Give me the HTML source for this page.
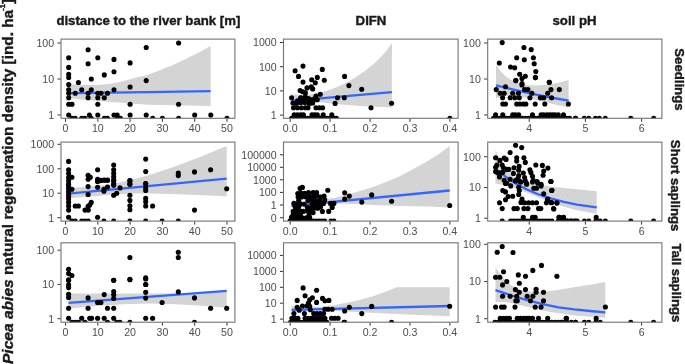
<!DOCTYPE html>
<html><head><meta charset="utf-8"><title>Picea abies natural regeneration density</title>
<style>
html,body{margin:0;padding:0;background:#fff;}
body{width:685px;height:364px;overflow:hidden;}
svg{display:block;will-change:transform;font-family:"Liberation Sans",sans-serif;}
.t{font-size:10.6px;fill:#4d4d4d;}
.b{font-size:13.2px;font-weight:bold;fill:#1a1a1a;stroke:#1a1a1a;stroke-width:.4px;}
.yl{font-size:15.35px;font-weight:bold;fill:#1a1a1a;stroke:#1a1a1a;stroke-width:.4px;}
.tk{stroke:#333;stroke-width:1;fill:none;}
.pb{stroke:#727272;stroke-width:1.1;fill:none;}
.rb{fill:#d4d4d4;stroke:none;}
.ln{stroke:#3366ff;stroke-width:2.3;fill:none;stroke-linecap:butt;}
.d{fill:#000;}
</style></head><body>
<svg width="685" height="364" viewBox="0 0 685 364">
<rect width="685" height="364" fill="#fff"/>
<defs>
<clipPath id="c00"><rect x="61" y="39.1" width="173.9" height="79.2"/></clipPath>
<clipPath id="c01"><rect x="283.5" y="39.1" width="174.6" height="79.2"/></clipPath>
<clipPath id="c02"><rect x="487.7" y="39.1" width="174.2" height="79.2"/></clipPath>
<clipPath id="c10"><rect x="61" y="142.1" width="173.9" height="79"/></clipPath>
<clipPath id="c11"><rect x="283.5" y="142.1" width="174.6" height="79"/></clipPath>
<clipPath id="c12"><rect x="487.7" y="142.1" width="174.2" height="79"/></clipPath>
<clipPath id="c20"><rect x="61" y="242.8" width="173.9" height="79.4"/></clipPath>
<clipPath id="c21"><rect x="283.5" y="242.8" width="174.6" height="79.4"/></clipPath>
<clipPath id="c22"><rect x="487.7" y="242.8" width="174.2" height="79.4"/></clipPath>
</defs>
<text class="yl" transform="translate(13.2,364) rotate(-90)"><tspan font-style="italic" font-size="15.55px">Picea abies</tspan> natural regeneration density [ind. ha<tspan font-size="7.5px" dy="-8" dx="-0.9">-1</tspan><tspan dy="8">]</tspan></text>
<text class="b" x="56.4" y="24.9" text-anchor="start">distance to the river bank [m]</text>
<text class="b" x="371" y="24.9" text-anchor="middle">DIFN</text>
<text class="b" x="574.5" y="24.9" text-anchor="middle">soil pH</text>
<text class="b" transform="translate(674.8,79.4) rotate(90)" text-anchor="middle">Seedlings</text>
<text class="b" transform="translate(671.3,185.6) rotate(90)" text-anchor="middle">Short saplings</text>
<text class="b" transform="translate(671.7,282.9) rotate(90)" text-anchor="middle">Tall saplings</text>
<g clip-path="url(#c00)">
<path class="rb" d="M68.5 84 L71.2 84.2 L84.4 85 L97.6 85 L110.8 83.7 L124 81 L137.2 77.3 L146 75.6 L159.2 70.6 L172.4 65.3 L185.6 59.1 L198.8 52.5 L210.6 45.9 L210.6 106.1 L148 104.8 L137.2 104 L124 103 L110.8 102.1 L97.6 101.1 L84.4 99.7 L68.5 98 Z"/>
<path class="ln" d="M68.5 93.2 L148 92.1 L210.6 91.2"/>
<g class="d"><circle cx="68.7" cy="57.7" r="2.55"/><circle cx="68.7" cy="67.4" r="2.55"/><circle cx="68.7" cy="74.3" r="2.55"/><circle cx="68.7" cy="77.5" r="2.55"/><circle cx="68.7" cy="84.6" r="2.55"/><circle cx="68.7" cy="89.8" r="2.55"/><circle cx="68.7" cy="93.3" r="2.55"/><circle cx="68.7" cy="97.8" r="2.55"/><circle cx="68.7" cy="104.2" r="2.55"/><circle cx="68.7" cy="115" r="2.55"/><circle cx="72" cy="104.2" r="2.55"/><circle cx="72" cy="118.3" r="2.55"/><circle cx="75.2" cy="93.3" r="2.55"/><circle cx="75.2" cy="118.3" r="2.55"/><circle cx="78.4" cy="82.5" r="2.55"/><circle cx="81.7" cy="89.8" r="2.55"/><circle cx="81.7" cy="118.3" r="2.55"/><circle cx="84.9" cy="118.3" r="2.55"/><circle cx="88.1" cy="49.7" r="2.55"/><circle cx="88.1" cy="63.7" r="2.55"/><circle cx="88.1" cy="93.3" r="2.55"/><circle cx="88.1" cy="97.8" r="2.55"/><circle cx="89.4" cy="115" r="2.55"/><circle cx="91.3" cy="79" r="2.55"/><circle cx="91.3" cy="89.8" r="2.55"/><circle cx="91.3" cy="118.3" r="2.55"/><circle cx="97.8" cy="57.7" r="2.55"/><circle cx="97.8" cy="93.3" r="2.55"/><circle cx="97.8" cy="97.8" r="2.55"/><circle cx="97.8" cy="104.2" r="2.55"/><circle cx="97.8" cy="115" r="2.55"/><circle cx="101" cy="93.3" r="2.55"/><circle cx="104.3" cy="74.9" r="2.55"/><circle cx="104.3" cy="97.8" r="2.55"/><circle cx="104.3" cy="118.3" r="2.55"/><circle cx="107.5" cy="93.3" r="2.55"/><circle cx="107.5" cy="118.3" r="2.55"/><circle cx="114" cy="59.4" r="2.55"/><circle cx="114" cy="71.7" r="2.55"/><circle cx="114" cy="89.8" r="2.55"/><circle cx="114" cy="115" r="2.55"/><circle cx="117.2" cy="115" r="2.55"/><circle cx="117.2" cy="118.3" r="2.55"/><circle cx="120.4" cy="118.3" r="2.55"/><circle cx="130.1" cy="62.9" r="2.55"/><circle cx="130.1" cy="87" r="2.55"/><circle cx="130.1" cy="104.2" r="2.55"/><circle cx="130.1" cy="115" r="2.55"/><circle cx="146.2" cy="47.5" r="2.55"/><circle cx="146.2" cy="80.6" r="2.55"/><circle cx="146.2" cy="115" r="2.55"/><circle cx="152.7" cy="118.3" r="2.55"/><circle cx="162.4" cy="118.3" r="2.55"/><circle cx="178.6" cy="43" r="2.55"/><circle cx="178.6" cy="104.2" r="2.55"/><circle cx="178.6" cy="118.3" r="2.55"/><circle cx="194.7" cy="115" r="2.55"/><circle cx="210.8" cy="115" r="2.55"/><circle cx="227" cy="118.3" r="2.55"/></g>
</g>
<rect class="pb" x="61" y="39.1" width="173.9" height="79.2"/>
<path class="tk" d="M65.5 118.8 v3 M97.8 118.8 v3 M130.1 118.8 v3 M162.4 118.8 v3 M194.7 118.8 v3 M227 118.8 v3 M60.5 43 h-3 M60.5 79 h-3 M60.5 115 h-3"/>
<text class="t" x="65.5" y="132.1" text-anchor="middle">0</text><text class="t" x="97.8" y="132.1" text-anchor="middle">10</text><text class="t" x="130.1" y="132.1" text-anchor="middle">20</text><text class="t" x="162.4" y="132.1" text-anchor="middle">30</text><text class="t" x="194.7" y="132.1" text-anchor="middle">40</text><text class="t" x="227" y="132.1" text-anchor="middle">50</text>
<text class="t" x="54.1" y="46.8" text-anchor="end">100</text><text class="t" x="54.1" y="82.8" text-anchor="end">10</text><text class="t" x="54.1" y="118.8" text-anchor="end">1</text>
<g clip-path="url(#c01)">
<path class="rb" d="M291.5 94.3 L302 95.1 L312.5 94.3 L323 92 L333.5 88.5 L344.1 83.8 L354.6 78 L365.1 70.7 L375.6 62.3 L386.1 51.2 L391.9 43.1 L391.9 107.5 L375.6 106.7 L359.8 105.9 L344.1 104.8 L333.5 103.8 L323 102.5 L312.5 101.7 L302 101.7 L291.5 102.2 Z"/>
<path class="ln" d="M291.5 100.9 L391.9 92.2"/>
<g class="d"><circle cx="303" cy="66.1" r="2.55"/><circle cx="295.1" cy="70.7" r="2.55"/><circle cx="298.5" cy="76.4" r="2.55"/><circle cx="322.3" cy="69.4" r="2.55"/><circle cx="317.3" cy="77.4" r="2.55"/><circle cx="311.7" cy="79.7" r="2.55"/><circle cx="303" cy="82.1" r="2.55"/><circle cx="315.3" cy="82.7" r="2.55"/><circle cx="324.3" cy="80.3" r="2.55"/><circle cx="344.6" cy="76.4" r="2.55"/><circle cx="348.9" cy="85.6" r="2.55"/><circle cx="361.7" cy="89.3" r="2.55"/><circle cx="307" cy="87.9" r="2.55"/><circle cx="311.3" cy="86.9" r="2.55"/><circle cx="312.7" cy="88.9" r="2.55"/><circle cx="291.6" cy="97.8" r="2.55"/><circle cx="337.5" cy="97.8" r="2.55"/><circle cx="344.3" cy="97.8" r="2.55"/><circle cx="335.1" cy="103.4" r="2.55"/><circle cx="371" cy="107.7" r="2.55"/><circle cx="300.1" cy="90.5" r="2.55"/><circle cx="302.8" cy="91.8" r="2.55"/><circle cx="305.4" cy="92.9" r="2.55"/><circle cx="320.3" cy="94.2" r="2.55"/><circle cx="316" cy="96.1" r="2.55"/><circle cx="300.8" cy="97.8" r="2.55"/><circle cx="305.4" cy="97.1" r="2.55"/><circle cx="310" cy="99.7" r="2.55"/><circle cx="314" cy="99.7" r="2.55"/><circle cx="317.3" cy="99.7" r="2.55"/><circle cx="292.9" cy="103" r="2.55"/><circle cx="296.8" cy="103" r="2.55"/><circle cx="300.8" cy="102.4" r="2.55"/><circle cx="304.7" cy="102.4" r="2.55"/><circle cx="308.7" cy="103" r="2.55"/><circle cx="312.7" cy="103" r="2.55"/><circle cx="293.5" cy="107.7" r="2.55"/><circle cx="297.5" cy="107.7" r="2.55"/><circle cx="301.4" cy="107.7" r="2.55"/><circle cx="305.4" cy="107.7" r="2.55"/><circle cx="308" cy="107.7" r="2.55"/><circle cx="316" cy="107.7" r="2.55"/><circle cx="319.3" cy="107.7" r="2.55"/><circle cx="322.6" cy="107.7" r="2.55"/><circle cx="294.2" cy="114.9" r="2.55"/><circle cx="297.5" cy="114.9" r="2.55"/><circle cx="300.8" cy="114.9" r="2.55"/><circle cx="303.4" cy="114.9" r="2.55"/><circle cx="312" cy="114.9" r="2.55"/><circle cx="314.6" cy="114.9" r="2.55"/><circle cx="317.3" cy="114.9" r="2.55"/><circle cx="323.2" cy="114.9" r="2.55"/><circle cx="331.8" cy="114.9" r="2.55"/><circle cx="291.6" cy="118.3" r="2.55"/><circle cx="294.2" cy="118.3" r="2.55"/><circle cx="297.5" cy="118.3" r="2.55"/><circle cx="300.8" cy="118.3" r="2.55"/><circle cx="304.1" cy="118.3" r="2.55"/><circle cx="307.4" cy="118.3" r="2.55"/><circle cx="310.7" cy="118.3" r="2.55"/><circle cx="314" cy="118.3" r="2.55"/><circle cx="317.3" cy="118.3" r="2.55"/><circle cx="320.6" cy="118.3" r="2.55"/><circle cx="323.9" cy="118.3" r="2.55"/><circle cx="327.2" cy="118.3" r="2.55"/><circle cx="330.5" cy="118.3" r="2.55"/><circle cx="333.8" cy="118.3" r="2.55"/><circle cx="336.4" cy="118.3" r="2.55"/><circle cx="449.9" cy="118.3" r="2.55"/><circle cx="391.6" cy="103.3" r="2.55"/><circle cx="300.7" cy="98.1" r="2.55"/><circle cx="304.9" cy="97.6" r="2.55"/><circle cx="308.5" cy="98.6" r="2.55"/><circle cx="312.2" cy="99.7" r="2.55"/><circle cx="315.3" cy="98.1" r="2.55"/><circle cx="297.6" cy="100.7" r="2.55"/><circle cx="303.8" cy="101.2" r="2.55"/><circle cx="295.5" cy="103.3" r="2.55"/><circle cx="310.1" cy="103.3" r="2.55"/></g>
</g>
<rect class="pb" x="283.5" y="39.1" width="174.6" height="79.2"/>
<path class="tk" d="M290.2 118.8 v3 M330.1 118.8 v3 M370.1 118.8 v3 M410 118.8 v3 M449.9 118.8 v3 M283 42.5 h-3 M283 66.7 h-3 M283 90.9 h-3 M283 115.1 h-3"/>
<text class="t" x="290.2" y="132.1" text-anchor="middle">0.0</text><text class="t" x="330.1" y="132.1" text-anchor="middle">0.1</text><text class="t" x="370.1" y="132.1" text-anchor="middle">0.2</text><text class="t" x="410" y="132.1" text-anchor="middle">0.3</text><text class="t" x="449.9" y="132.1" text-anchor="middle">0.4</text>
<text class="t" x="276.6" y="46.3" text-anchor="end">1000</text><text class="t" x="276.6" y="70.5" text-anchor="end">100</text><text class="t" x="276.6" y="94.7" text-anchor="end">10</text><text class="t" x="276.6" y="118.9" text-anchor="end">1</text>
<g clip-path="url(#c02)">
<path class="rb" d="M496 64.4 L500.8 71.5 L506 76.7 L511.3 80.1 L519.2 83.3 L527 84.9 L537.5 85.4 L548.1 84.6 L558.6 82.8 L568.6 80.1 L568.6 107.5 L553.3 104.3 L542.8 101.7 L532.3 99.1 L521.8 97 L513.9 95.9 L506 95.9 L500.8 97 L496 98.5 Z"/>
<path class="ln" d="M496 85.4 L511.3 89.1 L532.3 93.8 L550.7 97.5 L568.6 100.6"/>
<g class="d"><circle cx="502.2" cy="42.6" r="2.55"/><circle cx="523.9" cy="47.5" r="2.55"/><circle cx="531.2" cy="49.6" r="2.55"/><circle cx="516.7" cy="57.8" r="2.55"/><circle cx="524.3" cy="59.7" r="2.55"/><circle cx="533.4" cy="57.8" r="2.55"/><circle cx="534.2" cy="63.7" r="2.55"/><circle cx="499.3" cy="63" r="2.55"/><circle cx="510.5" cy="67" r="2.55"/><circle cx="514.7" cy="67.7" r="2.55"/><circle cx="535.8" cy="71.6" r="2.55"/><circle cx="519.7" cy="74.3" r="2.55"/><circle cx="525.3" cy="76.2" r="2.55"/><circle cx="522" cy="78.5" r="2.55"/><circle cx="535.4" cy="77.6" r="2.55"/><circle cx="515.8" cy="80.6" r="2.55"/><circle cx="549.3" cy="82.2" r="2.55"/><circle cx="522" cy="83.5" r="2.55"/><circle cx="515.8" cy="80.6" r="2.55"/><circle cx="522" cy="85" r="2.55"/><circle cx="535.4" cy="77.6" r="2.55"/><circle cx="549.3" cy="82.2" r="2.55"/><circle cx="505.5" cy="86.8" r="2.55"/><circle cx="496.2" cy="89.6" r="2.55"/><circle cx="524.6" cy="89.6" r="2.55"/><circle cx="527.9" cy="89.6" r="2.55"/><circle cx="551" cy="89.6" r="2.55"/><circle cx="559.3" cy="89.6" r="2.55"/><circle cx="500.2" cy="93.2" r="2.55"/><circle cx="504.2" cy="93.2" r="2.55"/><circle cx="512.7" cy="93.2" r="2.55"/><circle cx="518.4" cy="93.2" r="2.55"/><circle cx="531.9" cy="93.2" r="2.55"/><circle cx="547.7" cy="93.2" r="2.55"/><circle cx="502.6" cy="97.8" r="2.55"/><circle cx="510.1" cy="97.8" r="2.55"/><circle cx="514.7" cy="97.8" r="2.55"/><circle cx="519.3" cy="97.8" r="2.55"/><circle cx="529.9" cy="97.8" r="2.55"/><circle cx="540.4" cy="97.8" r="2.55"/><circle cx="543.7" cy="97.8" r="2.55"/><circle cx="551.6" cy="97.8" r="2.55"/><circle cx="502.8" cy="104" r="2.55"/><circle cx="505.5" cy="104" r="2.55"/><circle cx="516.7" cy="104" r="2.55"/><circle cx="520" cy="104" r="2.55"/><circle cx="523.3" cy="104" r="2.55"/><circle cx="525.9" cy="104" r="2.55"/><circle cx="535.2" cy="104" r="2.55"/><circle cx="544.8" cy="104" r="2.55"/><circle cx="568.4" cy="104" r="2.55"/><circle cx="495.6" cy="114.9" r="2.55"/><circle cx="502.8" cy="114.9" r="2.55"/><circle cx="512.7" cy="114.9" r="2.55"/><circle cx="515.4" cy="114.9" r="2.55"/><circle cx="518.7" cy="114.9" r="2.55"/><circle cx="532.5" cy="114.9" r="2.55"/><circle cx="541.1" cy="114.9" r="2.55"/><circle cx="543.7" cy="114.9" r="2.55"/><circle cx="547" cy="114.9" r="2.55"/><circle cx="549.7" cy="114.9" r="2.55"/><circle cx="552.3" cy="114.9" r="2.55"/><circle cx="554.9" cy="114.9" r="2.55"/><circle cx="558.2" cy="114.9" r="2.55"/><circle cx="563.5" cy="114.9" r="2.55"/><circle cx="493.6" cy="118.3" r="2.55"/><circle cx="496.8" cy="118.3" r="2.55"/><circle cx="499.9" cy="118.3" r="2.55"/><circle cx="503.1" cy="118.3" r="2.55"/><circle cx="506.3" cy="118.3" r="2.55"/><circle cx="509.4" cy="118.3" r="2.55"/><circle cx="512.6" cy="118.3" r="2.55"/><circle cx="515.8" cy="118.3" r="2.55"/><circle cx="518.9" cy="118.3" r="2.55"/><circle cx="522.1" cy="118.3" r="2.55"/><circle cx="525.3" cy="118.3" r="2.55"/><circle cx="528.4" cy="118.3" r="2.55"/><circle cx="531.6" cy="118.3" r="2.55"/><circle cx="534.8" cy="118.3" r="2.55"/><circle cx="537.9" cy="118.3" r="2.55"/><circle cx="541.1" cy="118.3" r="2.55"/><circle cx="544.3" cy="118.3" r="2.55"/><circle cx="547.4" cy="118.3" r="2.55"/><circle cx="550.6" cy="118.3" r="2.55"/><circle cx="553.8" cy="118.3" r="2.55"/><circle cx="556.9" cy="118.3" r="2.55"/><circle cx="560.1" cy="118.3" r="2.55"/><circle cx="563.3" cy="118.3" r="2.55"/><circle cx="566.4" cy="118.3" r="2.55"/><circle cx="569.6" cy="118.3" r="2.55"/><circle cx="575.4" cy="118.3" r="2.55"/><circle cx="575.6" cy="118.3" r="2.55"/><circle cx="584.3" cy="118.3" r="2.55"/><circle cx="588.8" cy="118.3" r="2.55"/><circle cx="595.4" cy="118.3" r="2.55"/><circle cx="599.3" cy="118.3" r="2.55"/><circle cx="605.3" cy="118.3" r="2.55"/><circle cx="630.8" cy="118.3" r="2.55"/><circle cx="653.7" cy="118.3" r="2.55"/></g>
</g>
<rect class="pb" x="487.7" y="39.1" width="174.2" height="79.2"/>
<path class="tk" d="M529.2 118.8 v3 M585.4 118.8 v3 M641.6 118.8 v3 M487.2 43 h-3 M487.2 79 h-3 M487.2 115 h-3"/>
<text class="t" x="529.2" y="132.1" text-anchor="middle">4</text><text class="t" x="585.4" y="132.1" text-anchor="middle">5</text><text class="t" x="641.6" y="132.1" text-anchor="middle">6</text>
<text class="t" x="480.8" y="46.8" text-anchor="end">100</text><text class="t" x="480.8" y="82.8" text-anchor="end">10</text><text class="t" x="480.8" y="118.8" text-anchor="end">1</text>
<g clip-path="url(#c10)">
<path class="rb" d="M68.5 187.9 L84.3 186.9 L97.4 185.8 L110.5 184.2 L123.7 181.6 L136.8 178.5 L150 174.8 L163.1 170.6 L176.2 165.9 L189.4 161.1 L202.5 155.9 L215.6 150.6 L226.7 145.9 L226.7 196.6 L215.6 195.8 L202.5 195.3 L189.4 194.8 L176.2 194.2 L163.1 193.7 L150 193.4 L136.8 193.4 L123.7 194 L110.5 194.8 L97.4 196.1 L84.3 196.9 L68.5 198.2 Z"/>
<path class="ln" d="M68.5 193.7 L226.7 178.7"/>
<g class="d"><circle cx="68.6" cy="161.4" r="2.55"/><circle cx="68.6" cy="169.7" r="2.55"/><circle cx="68.6" cy="173.6" r="2.55"/><circle cx="68.6" cy="177.6" r="2.55"/><circle cx="71.9" cy="177.3" r="2.55"/><circle cx="68.6" cy="180.9" r="2.55"/><circle cx="68.6" cy="184.2" r="2.55"/><circle cx="97.6" cy="169.7" r="2.55"/><circle cx="88.1" cy="175.2" r="2.55"/><circle cx="90.3" cy="177.3" r="2.55"/><circle cx="97.6" cy="179.2" r="2.55"/><circle cx="97.6" cy="181.5" r="2.55"/><circle cx="100.9" cy="180.2" r="2.55"/><circle cx="104.2" cy="180.3" r="2.55"/><circle cx="107.5" cy="180.3" r="2.55"/><circle cx="113.7" cy="165" r="2.55"/><circle cx="113.7" cy="169.7" r="2.55"/><circle cx="113.7" cy="173.4" r="2.55"/><circle cx="113.7" cy="176.9" r="2.55"/><circle cx="113.7" cy="180.2" r="2.55"/><circle cx="113.7" cy="183.5" r="2.55"/><circle cx="129.9" cy="180.9" r="2.55"/><circle cx="129.9" cy="184.2" r="2.55"/><circle cx="145.7" cy="159.1" r="2.55"/><circle cx="145.7" cy="171.6" r="2.55"/><circle cx="145.7" cy="183.5" r="2.55"/><circle cx="68.6" cy="185.9" r="2.55"/><circle cx="68.6" cy="188.6" r="2.55"/><circle cx="68.6" cy="191.2" r="2.55"/><circle cx="68.6" cy="193.8" r="2.55"/><circle cx="68.6" cy="196.5" r="2.55"/><circle cx="68.6" cy="199.1" r="2.55"/><circle cx="68.6" cy="202.4" r="2.55"/><circle cx="68.6" cy="206" r="2.55"/><circle cx="68.6" cy="210.1" r="2.55"/><circle cx="68.6" cy="217.3" r="2.55"/><circle cx="71.9" cy="189.2" r="2.55"/><circle cx="75.2" cy="206" r="2.55"/><circle cx="78.4" cy="206" r="2.55"/><circle cx="88.1" cy="186.6" r="2.55"/><circle cx="88.1" cy="194.5" r="2.55"/><circle cx="91.2" cy="202.4" r="2.55"/><circle cx="89.7" cy="205" r="2.55"/><circle cx="88.1" cy="206.4" r="2.55"/><circle cx="85" cy="210.1" r="2.55"/><circle cx="88.3" cy="210.1" r="2.55"/><circle cx="97.6" cy="187.2" r="2.55"/><circle cx="97.6" cy="217.3" r="2.55"/><circle cx="103.9" cy="189.2" r="2.55"/><circle cx="103.9" cy="191.2" r="2.55"/><circle cx="107.5" cy="187" r="2.55"/><circle cx="113.7" cy="185.3" r="2.55"/><circle cx="113.7" cy="195.2" r="2.55"/><circle cx="116.7" cy="193.2" r="2.55"/><circle cx="120" cy="187.9" r="2.55"/><circle cx="129.9" cy="180.6" r="2.55"/><circle cx="129.9" cy="183.9" r="2.55"/><circle cx="129.9" cy="195.2" r="2.55"/><circle cx="129.9" cy="200.4" r="2.55"/><circle cx="129.9" cy="205.7" r="2.55"/><circle cx="129.9" cy="209.7" r="2.55"/><circle cx="145.7" cy="183.9" r="2.55"/><circle cx="145.7" cy="187.9" r="2.55"/><circle cx="145.7" cy="190.5" r="2.55"/><circle cx="145.7" cy="198.4" r="2.55"/><circle cx="145.7" cy="201.7" r="2.55"/><circle cx="145.7" cy="206" r="2.55"/><circle cx="71.9" cy="221.1" r="2.55"/><circle cx="75.2" cy="221.1" r="2.55"/><circle cx="81.7" cy="221.1" r="2.55"/><circle cx="85" cy="221.1" r="2.55"/><circle cx="88.3" cy="221.1" r="2.55"/><circle cx="103.9" cy="221.1" r="2.55"/><circle cx="113.7" cy="221.1" r="2.55"/><circle cx="129.9" cy="221.1" r="2.55"/><circle cx="145.7" cy="221.1" r="2.55"/><circle cx="97.6" cy="181.3" r="2.55"/><circle cx="100.9" cy="180.6" r="2.55"/><circle cx="104.2" cy="180" r="2.55"/><circle cx="107.5" cy="180" r="2.55"/><circle cx="113.7" cy="180.6" r="2.55"/><circle cx="88.1" cy="179.3" r="2.55"/><circle cx="178.3" cy="173" r="2.55"/><circle cx="178.3" cy="175.6" r="2.55"/><circle cx="194.5" cy="171.9" r="2.55"/><circle cx="210.6" cy="169.7" r="2.55"/><circle cx="152.6" cy="206" r="2.55"/><circle cx="194.5" cy="210.1" r="2.55"/><circle cx="226.7" cy="188.8" r="2.55"/><circle cx="162.1" cy="221.1" r="2.55"/><circle cx="178.3" cy="221.1" r="2.55"/></g>
</g>
<rect class="pb" x="61" y="142.1" width="173.9" height="79"/>
<path class="tk" d="M65.5 221.6 v3 M97.8 221.6 v3 M130.1 221.6 v3 M162.4 221.6 v3 M194.7 221.6 v3 M227 221.6 v3 M60.5 144.3 h-3 M60.5 168.8 h-3 M60.5 193.2 h-3 M60.5 217.7 h-3"/>
<text class="t" x="65.5" y="234.9" text-anchor="middle">0</text><text class="t" x="97.8" y="234.9" text-anchor="middle">10</text><text class="t" x="130.1" y="234.9" text-anchor="middle">20</text><text class="t" x="162.4" y="234.9" text-anchor="middle">30</text><text class="t" x="194.7" y="234.9" text-anchor="middle">40</text><text class="t" x="227" y="234.9" text-anchor="middle">50</text>
<text class="t" x="54.1" y="148.1" text-anchor="end">1000</text><text class="t" x="54.1" y="172.6" text-anchor="end">100</text><text class="t" x="54.1" y="197" text-anchor="end">10</text><text class="t" x="54.1" y="221.5" text-anchor="end">1</text>
<g clip-path="url(#c11)">
<path class="rb" d="M291.5 202.4 L307.3 201.1 L320.4 199.7 L333.5 197.9 L346.7 194.8 L359.8 191.1 L373 187.1 L386.1 182.1 L399.2 176.6 L412.4 169.5 L425.5 162.2 L438.6 154.3 L449.7 145.9 L449.7 207.6 L438.6 207.1 L425.5 206.6 L412.4 206.3 L399.2 206.1 L386.1 205.5 L373 205 L359.8 204.2 L346.7 203.7 L333.5 203.7 L320.4 204.5 L307.3 205.8 L291.5 206.8 Z"/>
<path class="ln" d="M291.5 205.8 L449.7 190.5"/>
<g class="d"><circle cx="300.1" cy="188.4" r="2.55"/><circle cx="302.4" cy="187.4" r="2.55"/><circle cx="297.8" cy="193.5" r="2.55"/><circle cx="301" cy="193.2" r="2.55"/><circle cx="304.5" cy="193.2" r="2.55"/><circle cx="308.5" cy="192.6" r="2.55"/><circle cx="313.1" cy="192.6" r="2.55"/><circle cx="316.6" cy="192.6" r="2.55"/><circle cx="298.1" cy="197" r="2.55"/><circle cx="301.6" cy="197" r="2.55"/><circle cx="305.6" cy="196.8" r="2.55"/><circle cx="309.7" cy="196.4" r="2.55"/><circle cx="313.7" cy="196.4" r="2.55"/><circle cx="317.2" cy="196.1" r="2.55"/><circle cx="320.6" cy="197" r="2.55"/><circle cx="324.1" cy="196.1" r="2.55"/><circle cx="298.7" cy="200.5" r="2.55"/><circle cx="307.9" cy="200.5" r="2.55"/><circle cx="312" cy="200.5" r="2.55"/><circle cx="315.4" cy="200.5" r="2.55"/><circle cx="319.5" cy="200.5" r="2.55"/><circle cx="324.7" cy="199.9" r="2.55"/><circle cx="293.9" cy="203.4" r="2.55"/><circle cx="297" cy="203.9" r="2.55"/><circle cx="300.4" cy="203.9" r="2.55"/><circle cx="304.2" cy="204.2" r="2.55"/><circle cx="312" cy="204.5" r="2.55"/><circle cx="315.4" cy="204.5" r="2.55"/><circle cx="319.5" cy="203.9" r="2.55"/><circle cx="323.5" cy="203.4" r="2.55"/><circle cx="295.2" cy="206.8" r="2.55"/><circle cx="298.7" cy="206.8" r="2.55"/><circle cx="307.4" cy="207.4" r="2.55"/><circle cx="310.8" cy="208" r="2.55"/><circle cx="314.9" cy="208" r="2.55"/><circle cx="317.8" cy="208.3" r="2.55"/><circle cx="320.6" cy="206.8" r="2.55"/><circle cx="293.2" cy="211.4" r="2.55"/><circle cx="296.4" cy="210.9" r="2.55"/><circle cx="299.9" cy="210.9" r="2.55"/><circle cx="303.3" cy="211.4" r="2.55"/><circle cx="307.4" cy="210.9" r="2.55"/><circle cx="310.8" cy="211.4" r="2.55"/><circle cx="313.1" cy="212.6" r="2.55"/><circle cx="293.2" cy="214.3" r="2.55"/><circle cx="297" cy="214.9" r="2.55"/><circle cx="300.4" cy="214.9" r="2.55"/><circle cx="309.1" cy="214.9" r="2.55"/><circle cx="291.5" cy="217.2" r="2.55"/><circle cx="295.2" cy="217.6" r="2.55"/><circle cx="298.7" cy="217.6" r="2.55"/><circle cx="302.2" cy="217.8" r="2.55"/><circle cx="306.2" cy="217.8" r="2.55"/><circle cx="309.7" cy="217.8" r="2.55"/><circle cx="327.8" cy="190.3" r="2.55"/><circle cx="322.4" cy="211.4" r="2.55"/><circle cx="328.7" cy="211.4" r="2.55"/><circle cx="332.2" cy="207.4" r="2.55"/><circle cx="330.5" cy="203.4" r="2.55"/><circle cx="333.9" cy="203.4" r="2.55"/><circle cx="344.7" cy="192.8" r="2.55"/><circle cx="349.3" cy="196.1" r="2.55"/><circle cx="344.7" cy="199.1" r="2.55"/><circle cx="361.8" cy="202.1" r="2.55"/><circle cx="371.7" cy="194.9" r="2.55"/><circle cx="391.6" cy="201.3" r="2.55"/><circle cx="449.7" cy="205.5" r="2.55"/><circle cx="290" cy="221.1" r="2.55"/><circle cx="292.9" cy="221.1" r="2.55"/><circle cx="295.8" cy="221.1" r="2.55"/><circle cx="298.7" cy="221.1" r="2.55"/><circle cx="301.6" cy="221.1" r="2.55"/><circle cx="304.5" cy="221.1" r="2.55"/><circle cx="307.4" cy="221.1" r="2.55"/><circle cx="310.2" cy="221.1" r="2.55"/><circle cx="313.1" cy="221.1" r="2.55"/><circle cx="316" cy="221.1" r="2.55"/><circle cx="318.9" cy="221.1" r="2.55"/><circle cx="321.8" cy="221.1" r="2.55"/><circle cx="324.7" cy="221.1" r="2.55"/><circle cx="331" cy="221.1" r="2.55"/><circle cx="333.9" cy="221.1" r="2.55"/></g>
</g>
<rect class="pb" x="283.5" y="142.1" width="174.6" height="79"/>
<path class="tk" d="M290.2 221.6 v3 M330.1 221.6 v3 M370.1 221.6 v3 M410 221.6 v3 M449.9 221.6 v3 M283 154.8 h-3 M283 167.3 h-3 M283 179.8 h-3 M283 192.4 h-3 M283 205 h-3 M283 217.7 h-3"/>
<text class="t" x="290.2" y="234.9" text-anchor="middle">0.0</text><text class="t" x="330.1" y="234.9" text-anchor="middle">0.1</text><text class="t" x="370.1" y="234.9" text-anchor="middle">0.2</text><text class="t" x="410" y="234.9" text-anchor="middle">0.3</text><text class="t" x="449.9" y="234.9" text-anchor="middle">0.4</text>
<text class="t" x="276.6" y="158.6" text-anchor="end">100000</text><text class="t" x="276.6" y="171.1" text-anchor="end">10000</text><text class="t" x="276.6" y="183.6" text-anchor="end">1000</text><text class="t" x="276.6" y="196.2" text-anchor="end">100</text><text class="t" x="276.6" y="208.8" text-anchor="end">1</text><text class="t" x="276.6" y="221.5" text-anchor="end">0</text>
<g clip-path="url(#c12)">
<path class="rb" d="M495.5 150.6 L500.8 160.3 L506 168.2 L511.3 174.8 L519.2 180 L527 182.7 L537.5 184.8 L550.7 186.6 L563.8 187.9 L577 189.2 L596.7 191.3 L596.7 213.7 L577 210.3 L563.8 206.8 L550.7 202.4 L537.5 197.1 L527 192.7 L519.2 189.2 L511.3 186.9 L506 185.8 L500.8 184.8 L495.5 183.2 Z"/>
<path class="ln" d="M495.5 169.5 L506 176.9 L516.5 184 L527 189.5 L537.5 194 L550.7 198.4 L563.8 201.8 L577 204.7 L596.7 207.4"/>
<g class="d"><circle cx="515.6" cy="145.3" r="2.55"/><circle cx="521.7" cy="147.6" r="2.55"/><circle cx="510.1" cy="152.5" r="2.55"/><circle cx="495.6" cy="157.8" r="2.55"/><circle cx="499.9" cy="160.4" r="2.55"/><circle cx="504.2" cy="158.1" r="2.55"/><circle cx="506.1" cy="159.4" r="2.55"/><circle cx="516.7" cy="157.8" r="2.55"/><circle cx="516.7" cy="161.1" r="2.55"/><circle cx="523.9" cy="157.8" r="2.55"/><circle cx="525.3" cy="162.4" r="2.55"/><circle cx="535.8" cy="165" r="2.55"/><circle cx="542.4" cy="165.4" r="2.55"/><circle cx="547.9" cy="168.1" r="2.55"/><circle cx="543.7" cy="171" r="2.55"/><circle cx="543.1" cy="175.3" r="2.55"/><circle cx="550.7" cy="181.5" r="2.55"/><circle cx="496.9" cy="165" r="2.55"/><circle cx="495.6" cy="167.3" r="2.55"/><circle cx="502.2" cy="165" r="2.55"/><circle cx="503.5" cy="167.7" r="2.55"/><circle cx="506.8" cy="169.4" r="2.55"/><circle cx="508.8" cy="169.4" r="2.55"/><circle cx="514" cy="167.7" r="2.55"/><circle cx="519.1" cy="166.4" r="2.55"/><circle cx="518.7" cy="170.3" r="2.55"/><circle cx="513.4" cy="173.4" r="2.55"/><circle cx="495.6" cy="171.6" r="2.55"/><circle cx="498.2" cy="173" r="2.55"/><circle cx="499.5" cy="176.9" r="2.55"/><circle cx="502.8" cy="172.3" r="2.55"/><circle cx="523.3" cy="173" r="2.55"/><circle cx="529.9" cy="169.7" r="2.55"/><circle cx="530.9" cy="172.6" r="2.55"/><circle cx="532.5" cy="176.3" r="2.55"/><circle cx="518.7" cy="175.6" r="2.55"/><circle cx="518" cy="178.2" r="2.55"/><circle cx="524.6" cy="177.6" r="2.55"/><circle cx="504.2" cy="180.2" r="2.55"/><circle cx="510.1" cy="179.2" r="2.55"/><circle cx="515.4" cy="180.9" r="2.55"/><circle cx="520" cy="181.5" r="2.55"/><circle cx="525.3" cy="180.9" r="2.55"/><circle cx="533.2" cy="180.2" r="2.55"/><circle cx="537.1" cy="181.5" r="2.55"/><circle cx="505.5" cy="183.5" r="2.55"/><circle cx="526.6" cy="184.2" r="2.55"/><circle cx="541.1" cy="184.2" r="2.55"/><circle cx="551.6" cy="190.5" r="2.55"/><circle cx="543.7" cy="193.8" r="2.55"/><circle cx="533.8" cy="188.3" r="2.55"/><circle cx="536.5" cy="188.3" r="2.55"/><circle cx="541.1" cy="185.9" r="2.55"/><circle cx="537.8" cy="183.3" r="2.55"/><circle cx="532.5" cy="182" r="2.55"/><circle cx="526.6" cy="183.3" r="2.55"/><circle cx="518.7" cy="187.2" r="2.55"/><circle cx="519.3" cy="190.5" r="2.55"/><circle cx="518.7" cy="194.5" r="2.55"/><circle cx="510.7" cy="185.9" r="2.55"/><circle cx="506.8" cy="183.3" r="2.55"/><circle cx="502.8" cy="190.5" r="2.55"/><circle cx="505.5" cy="191.9" r="2.55"/><circle cx="512.7" cy="196.2" r="2.55"/><circle cx="508.1" cy="196.5" r="2.55"/><circle cx="505.5" cy="199.8" r="2.55"/><circle cx="499.5" cy="202.8" r="2.55"/><circle cx="522" cy="199.1" r="2.55"/><circle cx="521" cy="202.4" r="2.55"/><circle cx="524.6" cy="202.8" r="2.55"/><circle cx="528.6" cy="202.8" r="2.55"/><circle cx="532.5" cy="202.8" r="2.55"/><circle cx="536.5" cy="202.8" r="2.55"/><circle cx="547.7" cy="199.1" r="2.55"/><circle cx="546.4" cy="202.8" r="2.55"/><circle cx="551.6" cy="202.8" r="2.55"/><circle cx="556.9" cy="202.8" r="2.55"/><circle cx="502.2" cy="208.6" r="2.55"/><circle cx="514" cy="208.6" r="2.55"/><circle cx="517.3" cy="208.6" r="2.55"/><circle cx="523.9" cy="208.6" r="2.55"/><circle cx="527.9" cy="208.6" r="2.55"/><circle cx="538.5" cy="208.6" r="2.55"/><circle cx="540.8" cy="208.6" r="2.55"/><circle cx="553.6" cy="208.6" r="2.55"/><circle cx="523.3" cy="217.3" r="2.55"/><circle cx="532.5" cy="217.3" r="2.55"/><circle cx="535.2" cy="217.3" r="2.55"/><circle cx="558.9" cy="217.3" r="2.55"/><circle cx="563.5" cy="217.3" r="2.55"/><circle cx="502.2" cy="221.1" r="2.55"/><circle cx="510.7" cy="221.1" r="2.55"/><circle cx="513.9" cy="221.1" r="2.55"/><circle cx="517.1" cy="221.1" r="2.55"/><circle cx="520.2" cy="221.1" r="2.55"/><circle cx="523.4" cy="221.1" r="2.55"/><circle cx="526.6" cy="221.1" r="2.55"/><circle cx="529.7" cy="221.1" r="2.55"/><circle cx="532.9" cy="221.1" r="2.55"/><circle cx="536.1" cy="221.1" r="2.55"/><circle cx="539.2" cy="221.1" r="2.55"/><circle cx="542.4" cy="221.1" r="2.55"/><circle cx="545.6" cy="221.1" r="2.55"/><circle cx="548.7" cy="221.1" r="2.55"/><circle cx="551.9" cy="221.1" r="2.55"/><circle cx="558.2" cy="221.1" r="2.55"/><circle cx="561.4" cy="221.1" r="2.55"/><circle cx="564.6" cy="221.1" r="2.55"/><circle cx="567.7" cy="221.1" r="2.55"/><circle cx="570.9" cy="221.1" r="2.55"/><circle cx="574.1" cy="221.1" r="2.55"/><circle cx="577.2" cy="221.1" r="2.55"/><circle cx="551.1" cy="181.5" r="2.55"/><circle cx="552" cy="190.3" r="2.55"/><circle cx="547.6" cy="199.9" r="2.55"/><circle cx="551.1" cy="202.5" r="2.55"/><circle cx="556.9" cy="203.1" r="2.55"/><circle cx="553.8" cy="209" r="2.55"/><circle cx="559.4" cy="217.4" r="2.55"/><circle cx="563.4" cy="217.4" r="2.55"/><circle cx="596.2" cy="217.4" r="2.55"/><circle cx="562.5" cy="221.1" r="2.55"/><circle cx="566.9" cy="221.1" r="2.55"/><circle cx="571.3" cy="221.1" r="2.55"/><circle cx="575.7" cy="221.1" r="2.55"/><circle cx="584.4" cy="221.1" r="2.55"/><circle cx="588.8" cy="221.1" r="2.55"/><circle cx="595.8" cy="221.1" r="2.55"/><circle cx="600.2" cy="221.1" r="2.55"/><circle cx="605.4" cy="221.1" r="2.55"/><circle cx="630.8" cy="221.1" r="2.55"/><circle cx="653.6" cy="221.1" r="2.55"/><circle cx="500.4" cy="172.9" r="2.55"/><circle cx="496.6" cy="171.8" r="2.55"/><circle cx="515.8" cy="180.5" r="2.55"/><circle cx="520.8" cy="182.1" r="2.55"/></g>
</g>
<rect class="pb" x="487.7" y="142.1" width="174.2" height="79"/>
<path class="tk" d="M529.2 221.6 v3 M585.4 221.6 v3 M641.6 221.6 v3 M487.2 156.7 h-3 M487.2 187.5 h-3 M487.2 218.2 h-3"/>
<text class="t" x="529.2" y="234.9" text-anchor="middle">4</text><text class="t" x="585.4" y="234.9" text-anchor="middle">5</text><text class="t" x="641.6" y="234.9" text-anchor="middle">6</text>
<text class="t" x="480.8" y="160.5" text-anchor="end">100</text><text class="t" x="480.8" y="191.3" text-anchor="end">10</text><text class="t" x="480.8" y="222" text-anchor="end">1</text>
<g clip-path="url(#c20)">
<path class="rb" d="M68.5 293.4 L97.4 293.4 L123.7 293.4 L150 293.4 L176.2 293.4 L184.1 293.4 L194.6 292.9 L226.7 290.8 L226.7 307.8 L202.5 305.7 L176.2 304.2 L150 303.6 L123.7 304.2 L97.4 306 L68.5 308.6 Z"/>
<path class="ln" d="M68.5 302.8 L226.7 290.8"/>
<g class="d"><circle cx="68.6" cy="269.3" r="2.55"/><circle cx="68.6" cy="273.6" r="2.55"/><circle cx="71.9" cy="275.5" r="2.55"/><circle cx="68.6" cy="279.9" r="2.55"/><circle cx="113.7" cy="280.3" r="2.55"/><circle cx="129.9" cy="257.5" r="2.55"/><circle cx="129.9" cy="279.2" r="2.55"/><circle cx="145.7" cy="277.9" r="2.55"/><circle cx="145.7" cy="284.5" r="2.55"/><circle cx="68.6" cy="280.3" r="2.55"/><circle cx="68.6" cy="284.9" r="2.55"/><circle cx="68.6" cy="287.6" r="2.55"/><circle cx="68.6" cy="294.2" r="2.55"/><circle cx="68.6" cy="297.5" r="2.55"/><circle cx="68.6" cy="308.3" r="2.55"/><circle cx="68.6" cy="318.3" r="2.55"/><circle cx="88.1" cy="297.9" r="2.55"/><circle cx="88.1" cy="308.3" r="2.55"/><circle cx="97.6" cy="302.5" r="2.55"/><circle cx="100.9" cy="302.5" r="2.55"/><circle cx="104.2" cy="294.6" r="2.55"/><circle cx="107.5" cy="308.3" r="2.55"/><circle cx="113.7" cy="280.3" r="2.55"/><circle cx="113.7" cy="291.5" r="2.55"/><circle cx="113.7" cy="294.8" r="2.55"/><circle cx="113.7" cy="298.5" r="2.55"/><circle cx="113.7" cy="308.3" r="2.55"/><circle cx="113.7" cy="318.3" r="2.55"/><circle cx="129.9" cy="279.7" r="2.55"/><circle cx="145.7" cy="279" r="2.55"/><circle cx="145.7" cy="284.5" r="2.55"/><circle cx="145.7" cy="292.2" r="2.55"/><circle cx="145.7" cy="298.1" r="2.55"/><circle cx="145.7" cy="318.3" r="2.55"/><circle cx="81.7" cy="318.3" r="2.55"/><circle cx="89.7" cy="318.3" r="2.55"/><circle cx="91.6" cy="318.3" r="2.55"/><circle cx="97.6" cy="318.3" r="2.55"/><circle cx="104.2" cy="318.3" r="2.55"/><circle cx="71.9" cy="322.2" r="2.55"/><circle cx="75.2" cy="322.2" r="2.55"/><circle cx="78.4" cy="322.2" r="2.55"/><circle cx="85" cy="322.2" r="2.55"/><circle cx="107.5" cy="322.2" r="2.55"/><circle cx="116.7" cy="322.2" r="2.55"/><circle cx="120" cy="322.2" r="2.55"/><circle cx="129.9" cy="322.2" r="2.55"/><circle cx="178.3" cy="252.2" r="2.55"/><circle cx="178.3" cy="257.5" r="2.55"/><circle cx="152.6" cy="318.3" r="2.55"/><circle cx="162.1" cy="302.5" r="2.55"/><circle cx="178.3" cy="291.9" r="2.55"/><circle cx="194.5" cy="297.9" r="2.55"/><circle cx="210.6" cy="308.3" r="2.55"/><circle cx="226.7" cy="308.3" r="2.55"/><circle cx="194.5" cy="322.2" r="2.55"/></g>
</g>
<rect class="pb" x="61" y="242.8" width="173.9" height="79.4"/>
<path class="tk" d="M65.5 322.7 v3 M97.8 322.7 v3 M130.1 322.7 v3 M162.4 322.7 v3 M194.7 322.7 v3 M227 322.7 v3 M60.5 250.2 h-3 M60.5 284.4 h-3 M60.5 318.7 h-3"/>
<text class="t" x="65.5" y="336" text-anchor="middle">0</text><text class="t" x="97.8" y="336" text-anchor="middle">10</text><text class="t" x="130.1" y="336" text-anchor="middle">20</text><text class="t" x="162.4" y="336" text-anchor="middle">30</text><text class="t" x="194.7" y="336" text-anchor="middle">40</text><text class="t" x="227" y="336" text-anchor="middle">50</text>
<text class="t" x="54.1" y="254" text-anchor="end">100</text><text class="t" x="54.1" y="288.2" text-anchor="end">10</text><text class="t" x="54.1" y="322.5" text-anchor="end">1</text>
<g clip-path="url(#c21)">
<path class="rb" d="M291.5 306 L307.3 306.8 L320.4 306.8 L333.5 305.2 L346.7 302.8 L359.8 300 L373 296.3 L386.1 291.5 L396.6 287.3 L449.7 287.3 L449.7 316.2 L438.6 315.7 L412.4 314.7 L386.1 313.6 L359.8 312.3 L346.7 311.5 L333.5 311 L320.4 311 L307.3 311.5 L291.5 312.6 Z"/>
<path class="ln" d="M291.5 309.9 L449.7 306"/>
<g class="d"><circle cx="303.1" cy="287.9" r="2.55"/><circle cx="316.6" cy="290.3" r="2.55"/><circle cx="305.1" cy="295.8" r="2.55"/><circle cx="312.4" cy="297.8" r="2.55"/><circle cx="297.2" cy="300.4" r="2.55"/><circle cx="309.7" cy="299.8" r="2.55"/><circle cx="322.5" cy="298.4" r="2.55"/><circle cx="324.9" cy="300.7" r="2.55"/><circle cx="328.9" cy="300.4" r="2.55"/><circle cx="316.6" cy="302.4" r="2.55"/><circle cx="308.4" cy="303.1" r="2.55"/><circle cx="307.1" cy="305.7" r="2.55"/><circle cx="309.7" cy="306.4" r="2.55"/><circle cx="302.5" cy="306" r="2.55"/><circle cx="297.2" cy="307.3" r="2.55"/><circle cx="299.2" cy="310.3" r="2.55"/><circle cx="310.4" cy="309.7" r="2.55"/><circle cx="324.9" cy="309.3" r="2.55"/><circle cx="328.2" cy="309.3" r="2.55"/><circle cx="332.2" cy="309.3" r="2.55"/><circle cx="293.9" cy="313.6" r="2.55"/><circle cx="304.4" cy="313.6" r="2.55"/><circle cx="313.7" cy="313.6" r="2.55"/><circle cx="317" cy="313.6" r="2.55"/><circle cx="320.3" cy="313.6" r="2.55"/><circle cx="323.6" cy="313.6" r="2.55"/><circle cx="344.7" cy="311" r="2.55"/><circle cx="349.3" cy="307.3" r="2.55"/><circle cx="361.8" cy="313.6" r="2.55"/><circle cx="371.7" cy="306.4" r="2.55"/><circle cx="291.9" cy="318.2" r="2.55"/><circle cx="295.2" cy="318.2" r="2.55"/><circle cx="297.9" cy="318.2" r="2.55"/><circle cx="305.1" cy="318.2" r="2.55"/><circle cx="308.4" cy="318.2" r="2.55"/><circle cx="311.7" cy="318.2" r="2.55"/><circle cx="315" cy="318.2" r="2.55"/><circle cx="318.3" cy="318.2" r="2.55"/><circle cx="321.6" cy="318.2" r="2.55"/><circle cx="324.9" cy="318.2" r="2.55"/><circle cx="331.5" cy="318.2" r="2.55"/><circle cx="334.8" cy="318.2" r="2.55"/><circle cx="338.1" cy="318.2" r="2.55"/><circle cx="290.6" cy="322.2" r="2.55"/><circle cx="293.9" cy="322.2" r="2.55"/><circle cx="297.2" cy="322.2" r="2.55"/><circle cx="300.5" cy="322.2" r="2.55"/><circle cx="303.8" cy="322.2" r="2.55"/><circle cx="307.1" cy="322.2" r="2.55"/><circle cx="310.4" cy="322.2" r="2.55"/><circle cx="313.7" cy="322.2" r="2.55"/><circle cx="317" cy="322.2" r="2.55"/><circle cx="320.3" cy="322.2" r="2.55"/><circle cx="323.6" cy="322.2" r="2.55"/><circle cx="326.9" cy="322.2" r="2.55"/><circle cx="344.7" cy="322.2" r="2.55"/><circle cx="344" cy="322.2" r="2.55"/><circle cx="391.6" cy="322.2" r="2.55"/><circle cx="449.7" cy="306.3" r="2.55"/></g>
</g>
<rect class="pb" x="283.5" y="242.8" width="174.6" height="79.4"/>
<path class="tk" d="M290.2 322.7 v3 M330.1 322.7 v3 M370.1 322.7 v3 M410 322.7 v3 M449.9 322.7 v3 M283 255.4 h-3 M283 271.4 h-3 M283 287.3 h-3 M283 303.2 h-3 M283 319.1 h-3"/>
<text class="t" x="290.2" y="336" text-anchor="middle">0.0</text><text class="t" x="330.1" y="336" text-anchor="middle">0.1</text><text class="t" x="370.1" y="336" text-anchor="middle">0.2</text><text class="t" x="410" y="336" text-anchor="middle">0.3</text><text class="t" x="449.9" y="336" text-anchor="middle">0.4</text>
<text class="t" x="276.6" y="259.2" text-anchor="end">10000</text><text class="t" x="276.6" y="275.2" text-anchor="end">1000</text><text class="t" x="276.6" y="291.1" text-anchor="end">100</text><text class="t" x="276.6" y="307" text-anchor="end">10</text><text class="t" x="276.6" y="322.9" text-anchor="end">1</text>
<g clip-path="url(#c22)">
<path class="rb" d="M495.5 267.4 L500.8 274.5 L506 280.5 L511.3 285 L519.2 289.4 L527 291.5 L537.5 292.1 L550.7 291 L563.8 288.9 L577 286.8 L590.1 284.7 L605.3 282.1 L605.3 317.8 L590.1 316.8 L577 315.7 L563.8 314.1 L550.7 312 L537.5 309.4 L527 306.8 L516.5 304.2 L506 302.1 L495.5 302.1 Z"/>
<path class="ln" d="M495.5 290.2 L511.3 295.5 L527 300.2 L542.8 304.2 L558.6 307.3 L574.3 309.4 L590.1 311 L605.3 312.3"/>
<g class="d"><circle cx="502.2" cy="246.5" r="2.55"/><circle cx="497.2" cy="252.2" r="2.55"/><circle cx="513" cy="252.5" r="2.55"/><circle cx="541.5" cy="265.4" r="2.55"/><circle cx="532.8" cy="270.4" r="2.55"/><circle cx="503.5" cy="271.7" r="2.55"/><circle cx="518.3" cy="274.9" r="2.55"/><circle cx="525.5" cy="276.2" r="2.55"/><circle cx="556.9" cy="276.2" r="2.55"/><circle cx="495.6" cy="277.3" r="2.55"/><circle cx="499.8" cy="277.3" r="2.55"/><circle cx="506.8" cy="281.5" r="2.55"/><circle cx="519.3" cy="283.2" r="2.55"/><circle cx="502.6" cy="284.9" r="2.55"/><circle cx="515.4" cy="289.6" r="2.55"/><circle cx="525.5" cy="289.6" r="2.55"/><circle cx="536.1" cy="289.3" r="2.55"/><circle cx="536.1" cy="292.2" r="2.55"/><circle cx="519.3" cy="292.2" r="2.55"/><circle cx="543.5" cy="292.2" r="2.55"/><circle cx="502.6" cy="296.2" r="2.55"/><circle cx="510.1" cy="296.2" r="2.55"/><circle cx="516.7" cy="296.2" r="2.55"/><circle cx="527.2" cy="296.2" r="2.55"/><circle cx="532.9" cy="296.2" r="2.55"/><circle cx="515.8" cy="300.8" r="2.55"/><circle cx="517.3" cy="300.8" r="2.55"/><circle cx="530.5" cy="300.8" r="2.55"/><circle cx="543.5" cy="300.8" r="2.55"/><circle cx="495.6" cy="307.1" r="2.55"/><circle cx="501.5" cy="307.1" r="2.55"/><circle cx="504.2" cy="307.1" r="2.55"/><circle cx="515" cy="307.1" r="2.55"/><circle cx="535.2" cy="307.1" r="2.55"/><circle cx="541.1" cy="307.1" r="2.55"/><circle cx="500.2" cy="318.3" r="2.55"/><circle cx="503.5" cy="318.3" r="2.55"/><circle cx="506.8" cy="318.3" r="2.55"/><circle cx="509.4" cy="318.3" r="2.55"/><circle cx="517.3" cy="318.3" r="2.55"/><circle cx="520.6" cy="318.3" r="2.55"/><circle cx="523.9" cy="318.3" r="2.55"/><circle cx="526.6" cy="318.3" r="2.55"/><circle cx="529.2" cy="318.3" r="2.55"/><circle cx="532.5" cy="318.3" r="2.55"/><circle cx="538.5" cy="318.3" r="2.55"/><circle cx="547.7" cy="318.3" r="2.55"/><circle cx="566.2" cy="318.3" r="2.55"/><circle cx="494.9" cy="322.2" r="2.55"/><circle cx="498.1" cy="322.2" r="2.55"/><circle cx="501.2" cy="322.2" r="2.55"/><circle cx="504.4" cy="322.2" r="2.55"/><circle cx="507.6" cy="322.2" r="2.55"/><circle cx="510.7" cy="322.2" r="2.55"/><circle cx="513.9" cy="322.2" r="2.55"/><circle cx="517.1" cy="322.2" r="2.55"/><circle cx="520.2" cy="322.2" r="2.55"/><circle cx="523.4" cy="322.2" r="2.55"/><circle cx="526.6" cy="322.2" r="2.55"/><circle cx="529.7" cy="322.2" r="2.55"/><circle cx="532.9" cy="322.2" r="2.55"/><circle cx="536.1" cy="322.2" r="2.55"/><circle cx="539.2" cy="322.2" r="2.55"/><circle cx="542.4" cy="322.2" r="2.55"/><circle cx="545.6" cy="322.2" r="2.55"/><circle cx="548.7" cy="322.2" r="2.55"/><circle cx="551.9" cy="322.2" r="2.55"/><circle cx="555.1" cy="322.2" r="2.55"/><circle cx="558.2" cy="322.2" r="2.55"/><circle cx="561.4" cy="322.2" r="2.55"/><circle cx="566.2" cy="322.2" r="2.55"/><circle cx="575.4" cy="322.2" r="2.55"/><circle cx="605.4" cy="307" r="2.55"/><circle cx="566.4" cy="318.4" r="2.55"/><circle cx="596.2" cy="318.4" r="2.55"/><circle cx="562.5" cy="322.2" r="2.55"/><circle cx="566.9" cy="322.2" r="2.55"/><circle cx="571.3" cy="322.2" r="2.55"/><circle cx="575.7" cy="322.2" r="2.55"/><circle cx="584.4" cy="322.2" r="2.55"/><circle cx="588.8" cy="322.2" r="2.55"/><circle cx="595.8" cy="322.2" r="2.55"/><circle cx="600.2" cy="322.2" r="2.55"/><circle cx="630.8" cy="322.2" r="2.55"/><circle cx="653.6" cy="322.2" r="2.55"/></g>
</g>
<rect class="pb" x="487.7" y="242.8" width="174.2" height="79.4"/>
<path class="tk" d="M529.2 322.7 v3 M585.4 322.7 v3 M641.6 322.7 v3 M487.2 244.3 h-3 M487.2 281.6 h-3 M487.2 318.7 h-3"/>
<text class="t" x="529.2" y="336" text-anchor="middle">4</text><text class="t" x="585.4" y="336" text-anchor="middle">5</text><text class="t" x="641.6" y="336" text-anchor="middle">6</text>
<text class="t" x="480.8" y="248.1" text-anchor="end">100</text><text class="t" x="480.8" y="285.4" text-anchor="end">10</text><text class="t" x="480.8" y="322.5" text-anchor="end">1</text>
</svg>
</body></html>
